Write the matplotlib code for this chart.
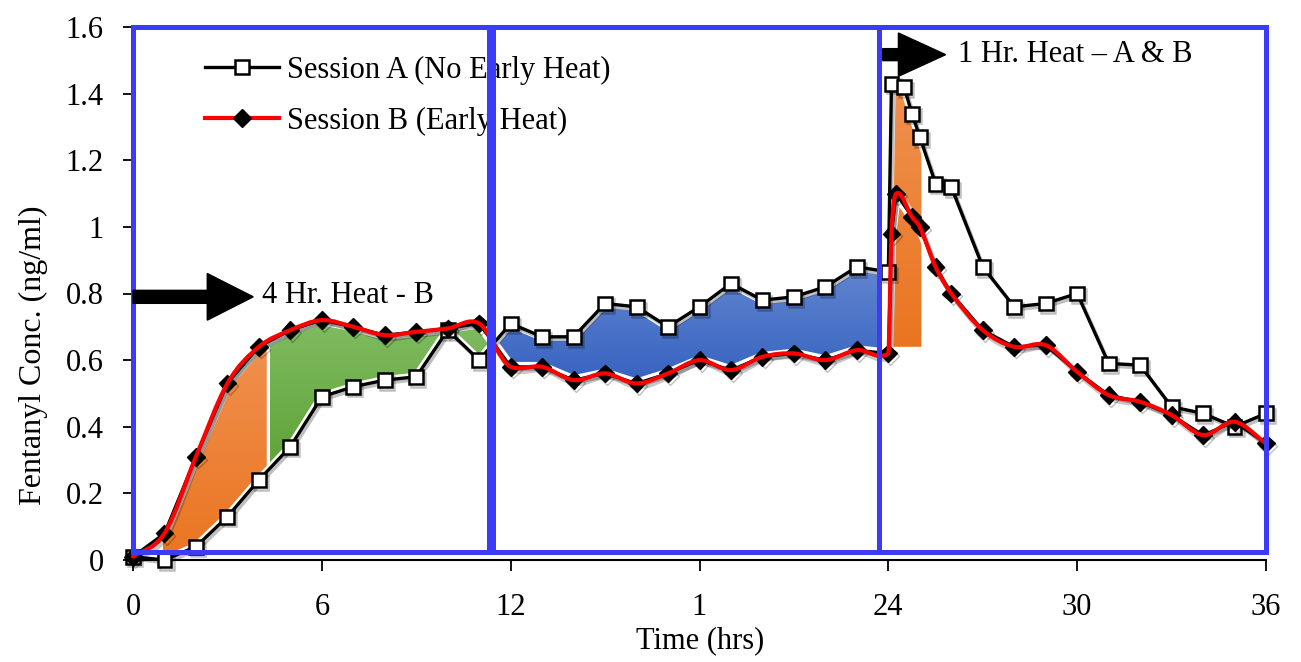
import numpy as np
import matplotlib
matplotlib.use("Agg")
import matplotlib.pyplot as plt
from matplotlib.path import Path
from matplotlib.patches import PathPatch, Rectangle, FancyArrow
from matplotlib.lines import Line2D
import matplotlib.patheffects as pe
import matplotlib.transforms as mtransforms

# ---------------- data ----------------
time_a = [0, 1, 2, 3, 4, 5, 6, 7, 8, 9, 10, 11, 12, 13, 14, 15, 16, 17, 18, 19, 20,
          21, 22, 23, 24, 24.1, 24.5, 24.75, 25, 25.5, 26, 27, 28, 29, 30, 31, 32,
          33, 34, 35, 36]
session_a = [0.01, 0.00, 0.04, 0.13, 0.24, 0.34, 0.49, 0.52, 0.54, 0.55, 0.69, 0.60,
             0.71, 0.67, 0.67, 0.77, 0.76, 0.70, 0.76, 0.83, 0.78, 0.79, 0.82, 0.88,
             0.865, 1.43, 1.42, 1.34, 1.27, 1.13, 1.12, 0.88, 0.76, 0.77, 0.80, 0.59,
             0.585, 0.46, 0.44, 0.40, 0.44]

time_b = [0, 1, 2, 3, 4, 5, 6, 7, 8, 9, 10, 11, 12, 13, 14, 15, 16, 17, 18, 19, 20,
          21, 22, 23, 24, 24.1, 24.25, 24.75, 25, 25.5, 26, 27, 28, 29, 30, 31, 32,
          33, 34, 35, 36]
session_b = [0.01, 0.08, 0.31, 0.53, 0.64, 0.69, 0.72, 0.70, 0.675, 0.685, 0.695, 0.71,
             0.58, 0.58, 0.54, 0.56, 0.53, 0.56, 0.60, 0.57, 0.61, 0.62, 0.60, 0.63,
             0.62, 0.98, 1.10, 1.03, 1.00, 0.88, 0.80, 0.69, 0.64, 0.645, 0.565, 0.495,
             0.475, 0.435, 0.375, 0.415, 0.35]

x_ticks = [0, 6, 12, 18, 24, 30, 36]
x_tick_labels = ["0", "6", "12", "1", "24", "30", "36"]
y_ticks = [0, 0.2, 0.4, 0.6, 0.8, 1.0, 1.2, 1.4, 1.6]
y_tick_labels = ["0", "0.2", "0.4", "0.6", "0.8", "1", "1.2", "1.4", "1.6"]

label_a = "Session A (No Early Heat)"
label_b = "Session B (Early Heat)"

# ---------------- style ----------------
plt.rcParams["font.family"] = ["Liberation Serif", "DejaVu Serif"]
FS = 22
BLUE = "#3B3BF8"

fig = plt.figure(figsize=(13.01, 6.62), dpi=100)
W, H = 1301, 662
ax = fig.add_axes([133 / W, 1 - 560 / H, (1266 - 133) / W, (560 - 27) / H])

ta = np.array(time_a); ya = np.array(session_a)
tb = np.array(time_b); yb = np.array(session_b)


def grad_fill(x0, x1, upper, lower, c_top, c_bot, z=1.5):
    xs = np.linspace(x0, x1, 300)
    yu = upper(xs)
    yl = lower(xs)
    verts = np.concatenate([np.column_stack([xs, yu]), np.column_stack([xs[::-1], yl[::-1]])])
    path = Path(verts, closed=False)
    patch = PathPatch(path, transform=ax.transData, facecolor="none", edgecolor="none")
    ax.add_patch(patch)
    ymin, ymax = min(yl.min(), yu.min()), max(yl.max(), yu.max())
    ct = np.array(matplotlib.colors.to_rgb(c_top))
    cb = np.array(matplotlib.colors.to_rgb(c_bot))
    f = np.linspace(0, 1, 256)[:, None]
    img = (ct[None, :] * (1 - f) + cb[None, :] * f)[:, None, :]
    im = ax.imshow(img, extent=[x0, x1, ymin, ymax], origin="upper", aspect="auto",
                   zorder=z, interpolation="bilinear")
    im.set_clip_path(patch)


fa = lambda x: np.interp(x, ta, ya)
fb = lambda x: np.interp(x, tb, yb)

# orange (early heat, B above A)
grad_fill(0.95, 4.25, fb, fa, "#F0904F", "#EA7520")
# green
grad_fill(4.35, 11.35, fb, fa, "#80BC62", "#5FA236")
# blue (A above B)
grad_fill(11.45, 23.8, fa, fb, "#6285D0", "#3663C0")
# orange spike
grad_fill(24.12, 25.05, fa, lambda x: np.full_like(x, 0.64), "#F0904F", "#EA7520")

# white halos so the fills separate from lines
ax.plot(ta, ya, color="white", lw=6, zorder=1.8, solid_joinstyle="round")
ax.plot(tb, yb, color="white", lw=7, zorder=1.8, solid_joinstyle="round")

# Session A
ax.plot(ta, ya, color="black", lw=2.4, marker="s", ms=10, mfc="white", mec="black",
        mew=1.8, zorder=3, clip_on=False,
        path_effects=[pe.SimpleLineShadow(offset=(1.5, -2), alpha=0.25), pe.Normal()])
# Session B black line with diamonds
ax.plot(tb, yb, color="black", lw=2.2, marker="D", ms=9, mfc="black", mec="black",
        zorder=3, clip_on=False,
        path_effects=[pe.SimpleLineShadow(offset=(1.5, -2), alpha=0.25), pe.Normal()])


# smooth red line for Session B (cubic Hermite drawn as Bezier path)
def smooth_path(x, y):
    x = np.asarray(x, float); y = np.asarray(y, float)
    n = len(x)
    m = np.zeros(n)
    m[0] = (y[1] - y[0]) / (x[1] - x[0])
    m[-1] = (y[-1] - y[-2]) / (x[-1] - x[-2])
    for i in range(1, n - 1):
        sl = (y[i] - y[i - 1]) / (x[i] - x[i - 1])
        sr = (y[i + 1] - y[i]) / (x[i + 1] - x[i])
        mc = (y[i + 1] - y[i - 1]) / (x[i + 1] - x[i - 1])
        lim = 3 * min(abs(sl), abs(sr)) + 0.04
        m[i] = np.clip(mc, -lim, lim)
    verts = [(x[0], y[0])]
    codes = [Path.MOVETO]
    for i in range(n - 1):
        dx = x[i + 1] - x[i]
        verts += [(x[i] + dx / 3, y[i] + m[i] * dx / 3),
                  (x[i + 1] - dx / 3, y[i + 1] - m[i + 1] * dx / 3),
                  (x[i + 1], y[i + 1])]
        codes += [Path.CURVE4] * 3
    return Path(verts, codes)


rpath = smooth_path(tb, yb)
shadow_tr = mtransforms.offset_copy(ax.transData, fig=fig, x=1.5, y=-2.5, units="points")
shadow = PathPatch(rpath, transform=shadow_tr, facecolor="none", edgecolor="black",
                   alpha=0.22, lw=3.5, zorder=3.9)
shadow.set_clip_on(False)
ax.add_patch(shadow)
red = PathPatch(rpath, transform=ax.transData, facecolor="none",
                edgecolor="#FF0000", lw=3, zorder=4, capstyle="round", joinstyle="round")
red.set_clip_on(False)
ax.add_patch(red)

# blue frames
for (x0, x1) in [(0, 11.3), (11.45, 23.7), (23.7, 36.0)]:
    r = Rectangle((x0, 0.024), x1 - x0, 1.6 - 0.024, facecolor="none", edgecolor=BLUE,
                  lw=3.6, zorder=6, clip_on=False)
    ax.add_patch(r)

# arrows and annotations
ax.add_patch(FancyArrow(0, 0.79, 3.82, 0, width=0.039, head_width=0.14, head_length=1.46,
                        length_includes_head=True, color="black", zorder=7, clip_on=False))
ax.text(4.1, 0.795, "4 Hr. Heat - B", fontsize=FS, ha="left", va="center", zorder=7)
ax.add_patch(FancyArrow(23.82, 1.517, 2.0, 0, width=0.036, head_width=0.13, head_length=1.5,
                        length_includes_head=True, color="black", zorder=7, clip_on=False))
ax.text(26.2, 1.517, "1 Hr. Heat \u2013 A & B", fontsize=FS, ha="left", va="center", zorder=7)

# legend
h_a = Line2D([], [], color="black", lw=2.4, marker="s", ms=10, mfc="white", mec="black", mew=1.8)
h_b = Line2D([], [], color="#FF0000", lw=3, marker="D", ms=9.5, mfc="black", mec="black")
ax.legend([h_a, h_b], [label_a, label_b], loc="upper left",
          bbox_to_anchor=(177 / W, 1 - 28 / H), bbox_transform=fig.transFigure,
          frameon=False, fontsize=FS, handlelength=2.45, handletextpad=0.25,
          labelspacing=0.72, borderpad=0.4)

# axes
ax.set_xlim(0, 36)
ax.set_ylim(0, 1.6)
ax.set_xticks(x_ticks)
ax.set_xticklabels(x_tick_labels, fontsize=FS)
ax.set_yticks(y_ticks)
ax.set_yticklabels(y_tick_labels, fontsize=FS)
ax.tick_params(axis="x", direction="out", length=8, width=1.3, pad=16)
ax.tick_params(axis="y", direction="out", length=7, width=1.3, pad=14)
for s in ["top", "right"]:
    ax.spines[s].set_visible(False)
ax.spines["bottom"].set_linewidth(1.5)
ax.spines["left"].set_linewidth(1.3)
ax.set_xlabel("Time (hrs)", fontsize=FS, labelpad=0)
ax.xaxis.set_label_coords((700 - 133) / (1266 - 133), -(626 - 560) / (560 - 27))
fig.text(33 / W, 1 - 355 / H, "Fentanyl Conc. (ng/ml)", rotation=90, fontsize=FS + 1,
         ha="center", va="center")

fig.savefig("out.png", dpi=100)
